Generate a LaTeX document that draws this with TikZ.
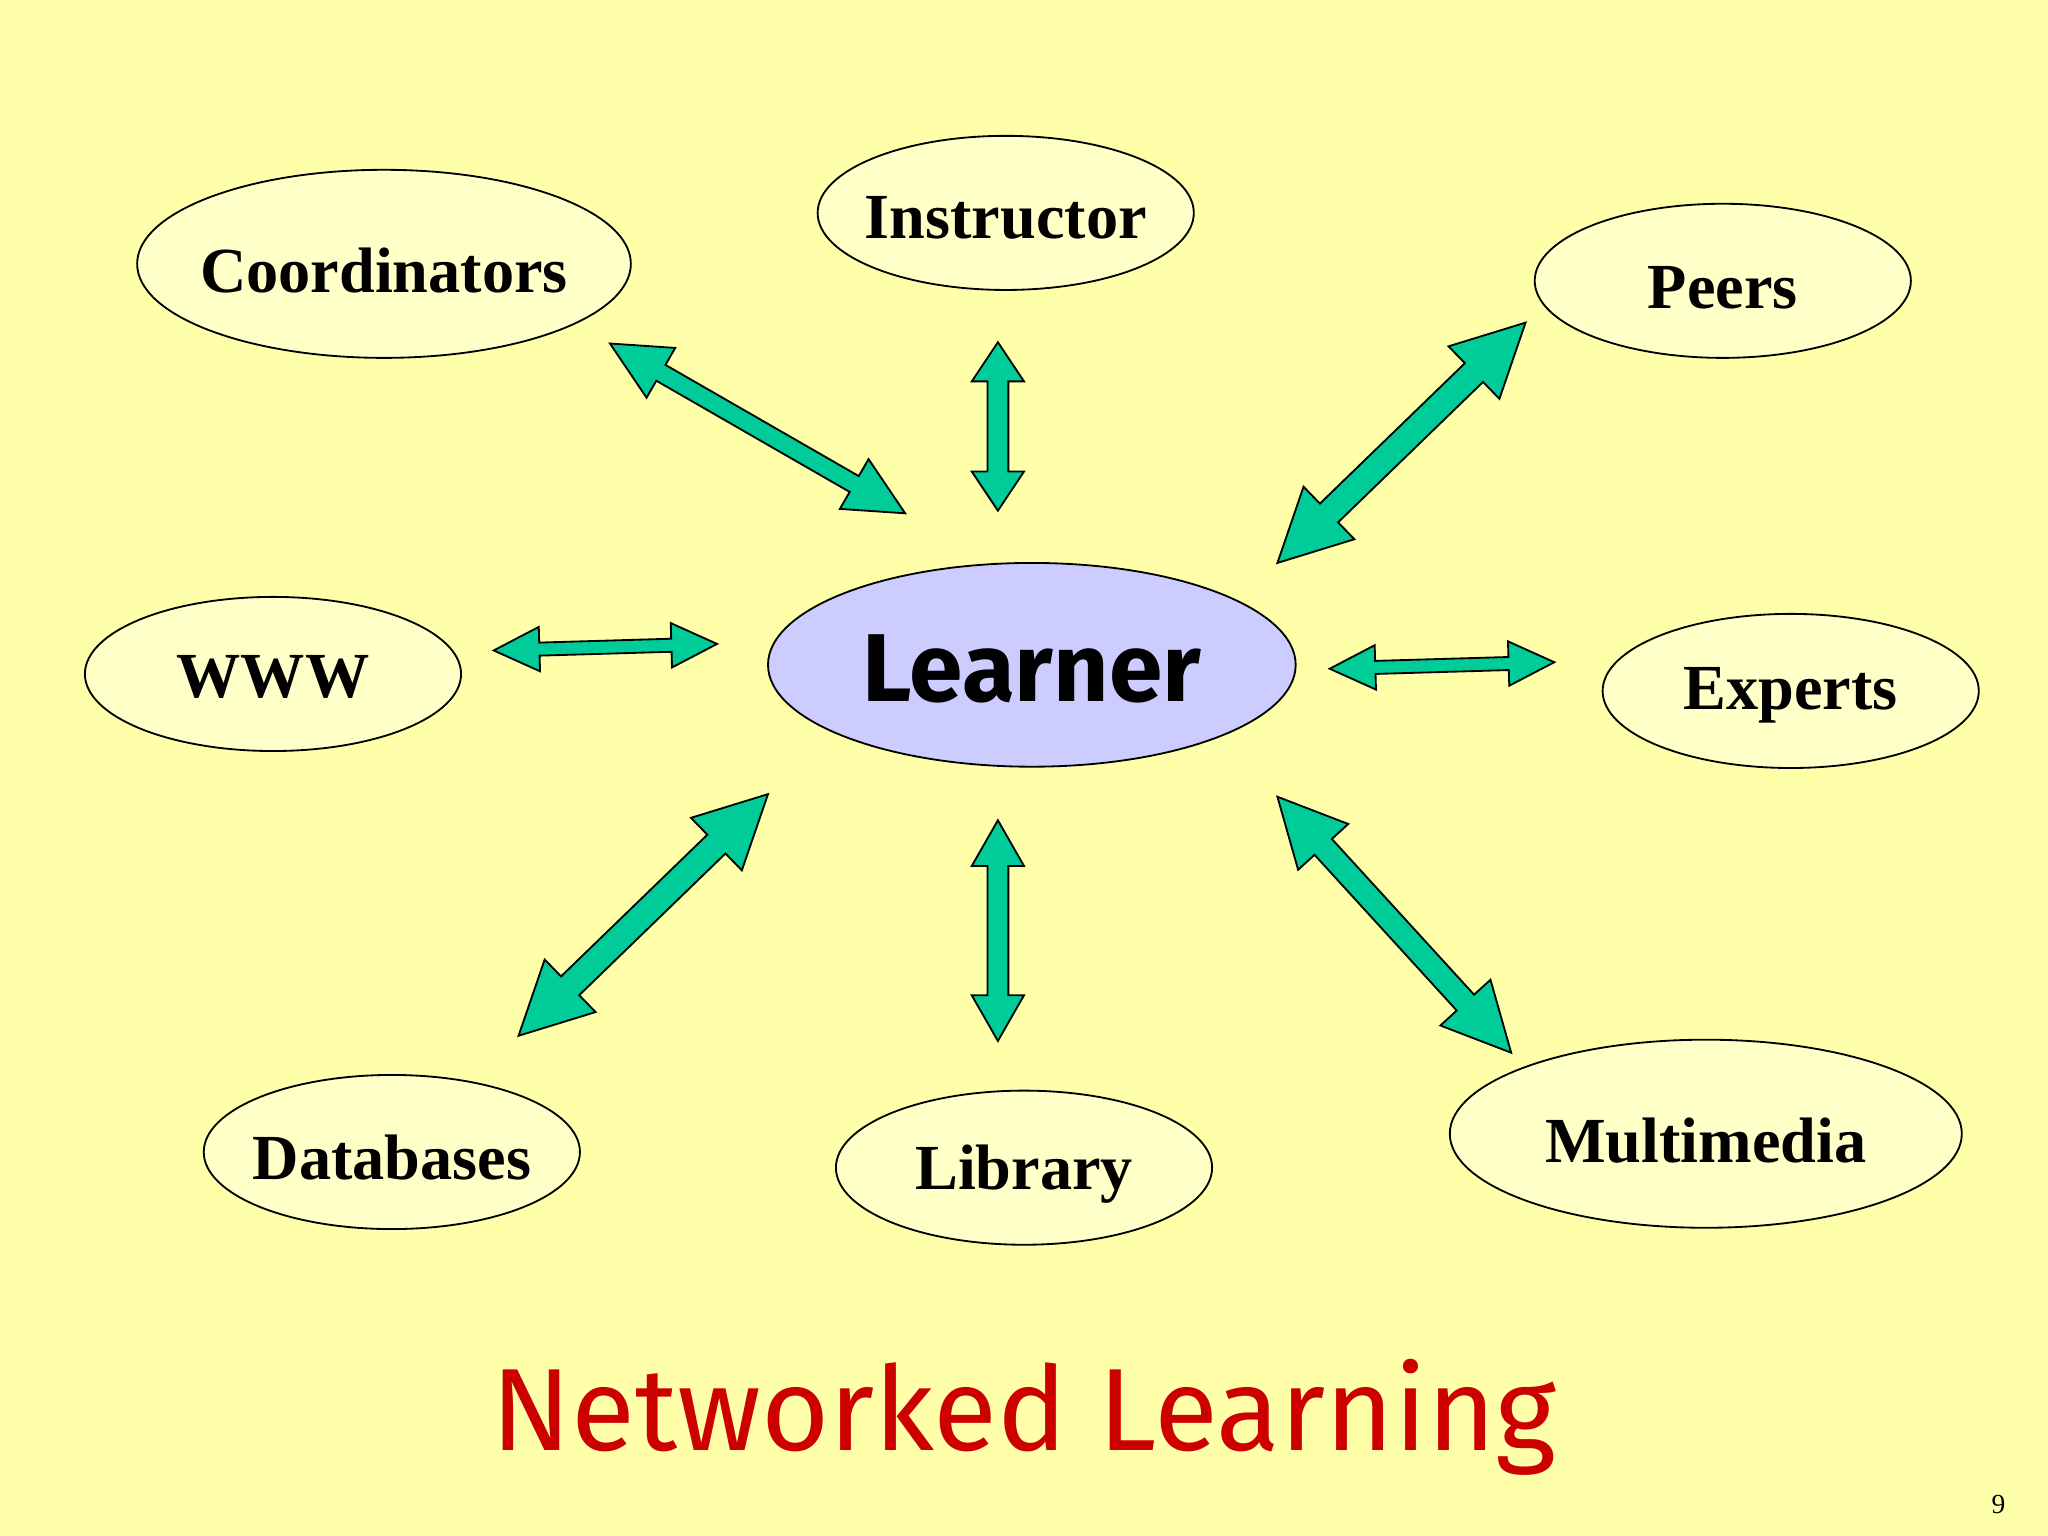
\documentclass[tikz,border=0pt]{standalone}
\usepackage{fontspec}
\setmainfont{Liberation Serif}
\newfontfamily\comic{Fira Sans}
\usetikzlibrary{calc,shapes.geometric}
\definecolor{bg}{RGB}{255,255,170}
\definecolor{ell}{RGB}{255,255,200}
\definecolor{lrn}{RGB}{204,204,255}
\definecolor{teal}{RGB}{0,204,153}
\definecolor{ttl}{RGB}{204,0,0}
\tikzset{
 ovl/.style={draw=black,line width=0.8pt,fill=ell},
 lbl/.style={inner sep=0pt,font=\bfseries\fontsize{28}{30}\selectfont},
 arr/.style={draw=black,fill=teal,line width=0.8pt,line join=miter}
}
\newcommand\dbl[5]{%
 \path ($(#1)!#5!(#2)$) coordinate (h1) ($(#2)!#5!(#1)$) coordinate (h2);
 \draw[arr] (#1) -- ($(h1)!#4!90:(#2)$) -- ($(h1)!#3!90:(#2)$) -- ($(h2)!#3!-90:(#1)$) -- ($(h2)!#4!-90:(#1)$) -- (#2) -- ($(h2)!#4!90:(#1)$) -- ($(h2)!#3!90:(#1)$) -- ($(h1)!#3!-90:(#2)$) -- ($(h1)!#4!-90:(#2)$) -- cycle;}
\begin{document}
\begin{tikzpicture}[x=0.02cm,y=-0.02cm]
\fill[bg] (0,0) rectangle (1568,1176);
\useasboundingbox (0,0) rectangle (1568,1176);
\draw[ovl] (294,202) ellipse [x radius=189,y radius=72];
\draw[ovl] (770,163) ellipse [x radius=144,y radius=59];
\draw[ovl] (1319,215) ellipse [x radius=144,y radius=59];
\draw[ovl] (209,516) ellipse [x radius=144,y radius=59];
\draw[ovl,fill=lrn] (790,509) ellipse [x radius=202,y radius=78];
\draw[ovl] (1371,529) ellipse [x radius=144,y radius=59];
\draw[ovl] (300,882) ellipse [x radius=144,y radius=59];
\draw[ovl] (784,894) ellipse [x radius=144,y radius=59];
\draw[ovl] (1306,868) ellipse [x radius=196,y radius=72];
\node[lbl] (coord) at (294,207) {Coordinators};
\node[lbl] (instr) at (770,167) {Instructor};
\node[lbl] (peers) at (1319,220) {Peers};
\node[lbl] (www) at (209,518) {WWW};
\node[lbl,font=\comic\bfseries\fontsize{42}{44}\selectfont] (learner) at (790,512) {Learner};
\node[lbl] (experts) at (1371,532) {Experts};
\node[lbl] (db) at (300,886) {Databases};
\node[lbl] (lib) at (784,899) {Library};
\node[lbl] (mm) at (1306,873) {Multimedia};
\coordinate (a1) at (467,263); \coordinate (b1) at (693,393);
\coordinate (a2) at (764,262); \coordinate (b2) at (764,391);
\coordinate (a3) at (1168,247); \coordinate (b3) at (978,431);
\coordinate (a4) at (378,498); \coordinate (b4) at (549,493);
\coordinate (a5) at (1018,512); \coordinate (b5) at (1190,507);
\coordinate (a6) at (588,608); \coordinate (b6) at (397,793);
\coordinate (a7) at (764,628); \coordinate (b7) at (764,797);
\coordinate (a8) at (978,610); \coordinate (b8) at (1157,806);
\dbl{a1}{b1}{0.14cm}{0.44cm}{0.9cm}
\dbl{a2}{b2}{0.16cm}{0.4cm}{0.6cm}
\dbl{a3}{b3}{0.2cm}{0.56cm}{1.1cm}
\dbl{a4}{b4}{0.1cm}{0.34cm}{0.7cm}
\dbl{a5}{b5}{0.1cm}{0.34cm}{0.7cm}
\dbl{a6}{b6}{0.2cm}{0.56cm}{1.1cm}
\dbl{a7}{b7}{0.16cm}{0.4cm}{0.7cm}
\dbl{a8}{b8}{0.18cm}{0.52cm}{1.04cm}
\node[text=ttl,font=\comic\fontsize{51}{53}\selectfont] (title) at (784,1085) {Networked Learning};
\node[font=\fontsize{12}{14}\selectfont] (pg) at (1530,1152) {9};
\end{tikzpicture}
\end{document}
